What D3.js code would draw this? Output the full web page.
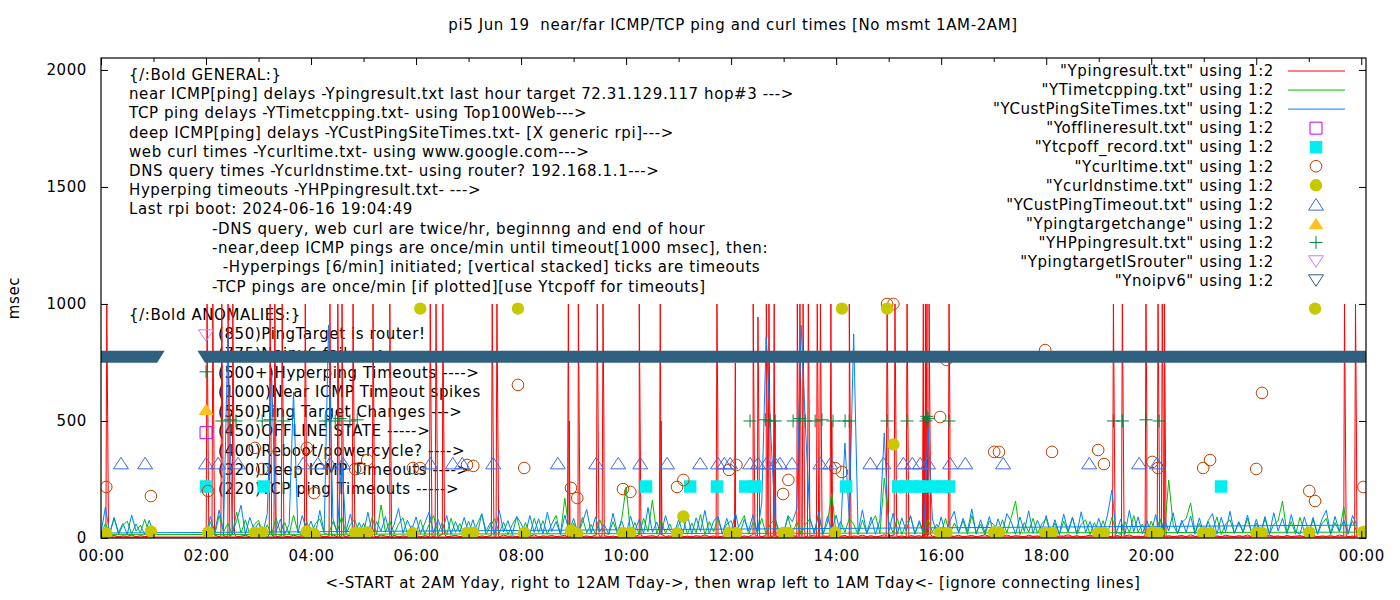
<!DOCTYPE html>
<html>
<head>
<meta charset="utf-8">
<script src="https://cdn.jsdelivr.net/npm/d3@7"></script>
<style>
  body { margin: 0; background: #fff; }
  text { font-family: "DejaVu Sans", sans-serif; font-size: 15px; letter-spacing: 0.6px; fill: #000; }
</style>
</head>
<body>
<svg id="chart" width="1400" height="600"></svg>
<script>
// ---- data (5 minute samples from 00:00, null = no measurement) ----
const xTickHours = [0, 2, 4, 6, 8, 10, 12, 14, 16, 18, 20, 22, 24];
const xTickLabels = ["00:00","02:00","04:00","06:00","08:00","10:00","12:00","14:00","16:00","18:00","20:00","22:00","00:00"];
const xMinorHours = [1, 3, 5, 7, 9, 11, 13, 15, 17, 19, 21, 23];
const yTicks = [0, 500, 1000, 1500, 2000];

const G = null;
const pingBase = [
  4,8,6,11,5,9,7,13,5,10,6,8,
  6,G,G,G,G,G,G,G,G,G,G,G,
  8,5,12,6,9,7,14,5,8,11,6,9,
  7,10,5,13,6,9,8,5,12,7,10,6,
  9,6,11,5,8,14,6,9,7,12,5,8,
  6,10,7,5,13,8,6,11,5,9,7,12,
  8,5,10,6,9,7,15,5,8,11,6,9,
  7,12,5,9,6,10,8,5,13,7,9,6,
  10,6,8,14,5,9,7,11,6,8,12,5,
  8,11,6,9,5,13,7,10,6,8,5,12,
  6,9,7,12,5,8,10,6,14,7,9,5,
  11,6,8,5,10,7,13,6,9,5,8,12,
  7,10,5,9,6,14,8,5,11,7,9,6,
  9,5,12,7,10,6,8,13,5,9,7,11,
  6,8,11,5,9,7,12,6,10,5,8,14,
  8,12,6,9,5,11,7,10,6,13,8,5,
  10,6,9,7,12,5,8,11,6,9,14,7,
  5,9,7,13,6,10,8,5,12,7,9,6,
  11,7,5,9,8,14,6,10,5,8,12,7,
  6,10,8,5,11,7,9,13,6,8,5,10,
  9,5,12,7,10,6,8,11,5,14,7,9,
  7,11,6,9,5,12,8,6,10,7,13,5,
  10,6,8,12,7,9,5,11,6,8,10,6,
  8,12,5,9,7,10,6,13,8,5,9,5
];
// [hour, peak, next minute]
const pingSpikes = [
  [0.11,1000,520],
  [2.02,1000,500],[2.13,1000,510],[2.30,1000,500],[2.42,1000,520],[2.51,1000,500],
  [3.22,1000,500],[3.31,1000,510],[3.45,1000,500],[3.89,1000,500],
  [4.36,1000,500],[4.51,1000,510],[4.59,1000,500],[4.80,1000,520],
  [5.18,1000,500],[5.50,1000,500],
  [6.27,1000,500],[6.38,1000,510],[6.51,1000,500],
  [7.45,1000,500],[7.54,1000,510],
  [8.90,1000,500],[9.09,1000,510],[9.45,1000,500],[9.56,1000,500],
  [10.25,1000,510],[10.65,1000,500],[11.73,1000,500],[12.08,748,20],
  [12.42,1000,500],[12.51,944,500],[12.67,1000,510],[12.72,1000,500],[12.82,1000,500],
  [13.26,1000,500],[13.31,1000,510],[13.37,1000,500],[13.47,1000,500],[13.64,1000,510],[13.70,1000,500],[13.90,1000,500],
  [14.25,1000,510],[14.97,1000,500],[15.12,1000,500],[15.35,1000,500],[15.66,1000,520],[15.70,1000,510],[15.73,1000,520],[15.77,1000,500],[16.15,1000,500],
  [19.28,1000,500],[19.45,1000,510],[19.90,1000,500],[20.13,1000,500],[20.21,1000,510],[20.25,1000,500],
  [23.68,1000,500],[23.89,1000,500]
];
const tcpDelay = [
  14,62,20,88,15,54,72,18,60,22,80,16,
  24,G,G,G,G,G,G,G,G,G,G,G,
  18,70,14,96,26,62,16,110,20,78,15,58,
  76,18,56,14,86,24,66,16,98,26,18,72,
  16,62,82,20,14,70,26,92,18,58,80,15,
  64,20,90,16,141,24,72,18,60,86,20,52,
  22,78,16,58,96,18,66,14,84,24,62,18,
  72,16,60,102,15,52,82,20,68,14,58,90,
  18,66,14,84,24,74,16,60,96,15,170,26,
  64,15,88,22,58,16,78,26,14,70,20,82,
  218,22,66,15,84,26,162,16,74,20,60,15,
  56,82,16,64,22,100,15,70,26,86,18,60,
  74,20,58,96,16,66,24,84,15,62,78,22,
  26,90,18,70,15,58,82,22,100,16,64,192,
  16,72,24,84,58,15,76,22,64,96,20,256,
  70,22,82,16,60,92,20,66,15,78,26,58,
  22,84,15,64,26,74,16,96,24,60,14,72,
  58,16,78,22,86,158,15,66,26,84,20,60,
  82,18,64,14,72,24,90,16,58,78,15,66,
  24,74,16,88,28,14,70,22,96,26,60,16,
  72,22,82,15,248,58,18,66,84,150,24,62,
  16,70,26,90,15,60,78,20,66,24,84,14,
  64,20,82,15,58,74,158,22,70,16,88,26,
  22,78,16,60,84,15,66,26,132,20,74,25
];
const custDelay = [
  21,132,18,85,24,62,16,98,30,54,15,76,
  22,G,G,G,G,G,G,G,G,G,G,G,
  18,92,25,120,30,868,20,74,140,16,88,35,
  64,20,105,697,28,80,18,58,624,22,96,30,
  72,15,118,26,910,84,20,333,30,102,16,66,
  24,110,18,70,30,92,16,58,126,20,76,34,
  90,18,64,112,22,80,28,96,16,70,24,88,
  20,78,16,104,30,66,18,120,26,74,15,92,
  62,16,96,24,82,18,110,28,70,16,98,26,
  84,18,66,122,20,90,28,58,16,106,24,72,
  16,94,30,80,18,130,24,68,16,96,30,22,
  78,20,102,16,86,28,118,18,72,94,16,84,
  24,108,18,80,30,100,20,152,859,470,88,26,
  18,96,70,124,910,470,84,20,110,16,92,30,
  98,18,406,80,872,24,120,18,90,16,76,449,
  22,106,18,86,30,96,16,74,24,470,82,18,
  90,16,72,114,22,84,28,124,16,78,24,92,
  18,82,24,104,70,16,90,28,116,20,76,30,
  96,20,78,16,102,28,86,18,112,24,70,16,
  84,26,98,205,18,80,16,118,26,90,18,74,
  22,100,16,82,30,108,18,76,24,94,16,86,
  18,74,104,16,88,26,114,20,70,28,98,16,
  80,22,92,16,108,30,84,18,100,26,16,90,
  24,88,16,80,118,20,92,28,76,16,96,55
];

const offlineRecs = [[2.0, 450]];
const tcpOffTimes = [2.0, 3.10, 10.38, 11.22, 11.73, 12.27, 12.46, 14.19, 15.18, 15.32, 15.46, 15.6, 15.74, 15.88, 16.02, 16.15, 21.33];
const tcpOffValue = 220;
const curlRecs = [
  [0.10,218],[0.95,179],[2.04,201],[2.93,385],[3.07,295],[3.92,385],[4.06,192],[4.84,295],[4.93,299],[5.07,333],
  [5.94,299],[6.08,299],[6.97,312],[7.09,308],[7.94,654],[8.06,299],[8.95,214],[9.07,171],[9.94,209],[10.08,197],
  [10.97,218],[11.09,248],[11.96,291],[12.10,312],[12.99,188],[13.09,248],[13.98,299],[14.11,282],[14.97,1000],[15.09,1000],
  [15.98,517],[16.10,761],[17.01,368],[17.10,368],[17.98,803],[18.11,368],[18.99,376],[19.10,316],[20.02,325],[20.13,299],
  [20.99,299],[21.12,333],[22.00,295],[22.11,620],[23.01,201],[23.12,158],[24.04,218]
];
const dnsRecs = [
  [0.10,18],[0.95,28],[2.04,24],[2.93,22],[3.07,24],[3.92,28],[4.06,16],[4.84,22],[4.93,20],[5.07,24],
  [5.94,20],[6.08,980],[6.97,22],[7.09,22],[7.94,980],[8.06,22],[8.95,32],[9.07,18],[9.94,22],[10.08,22],
  [10.97,20],[11.09,92],[11.96,22],[12.10,22],[12.99,22],[13.09,22],[13.98,24],[14.11,980],[14.97,980],[15.09,400],
  [15.98,22],[16.10,22],[17.01,24],[17.10,24],[17.98,22],[18.11,22],[18.99,22],[19.10,22],[20.02,24],[20.13,22],
  [20.99,22],[21.12,20],[22.00,22],[22.11,22],[23.01,24],[23.12,980],[24.04,26]
];
const custTimeoutTimes = [0.38,0.84,2.0,2.23,2.61,3.85,4.13,4.36,4.61,6.27,6.70,6.88,7.47,8.70,9.43,9.85,10.27,10.78,11.41,11.75,11.87,11.98,12.36,12.51,12.67,12.84,12.93,13.16,13.70,13.89,14.65,14.90,15.28,15.45,15.60,15.75,16.17,16.46,17.18,18.82,19.77,20.11];
const custTimeoutValue = 320;
const targetChangeRecs = [[2.0, 550]];
const hpRecs = [
  [2.0,710],[2.30,500],[2.46,505],[2.57,500],[3.07,500],[3.22,505],[3.47,500],[4.27,500],[4.46,500],[4.55,510],[4.74,500],[4.88,505],
  [12.36,500],[12.65,505],[12.74,500],[12.84,500],[13.18,500],[13.31,510],[13.41,500],[13.60,500],[13.73,505],[13.94,500],[14.17,500],[14.25,500],
  [14.97,500],[15.35,500],[15.71,500],[15.73,520],[15.75,510],[16.15,500],[19.28,500],[19.45,500],[19.90,505],[20.15,500]
];
const isRouterRecs = [[2.0, 865]];
const noipv6Spans = [[-0.2, 1.07], [1.98, 24.3]];
const noipv6Value = 775;

const generalLines = [
  "{/:Bold GENERAL:}",
  "near ICMP[ping] delays -Ypingresult.txt last hour target 72.31.129.117 hop#3 --->",
  "TCP ping delays -YTimetcpping.txt- using Top100Web--->",
  "deep ICMP[ping] delays -YCustPingSiteTimes.txt- [X generic rpi]--->",
  "web curl times -Ycurltime.txt- using www.google.com--->",
  "DNS query times -Ycurldnstime.txt- using router? 192.168.1.1--->",
  "Hyperping timeouts -YHPpingresult.txt- --->",
  "Last rpi boot: 2024-06-16 19:04:49"
];
const noteLines = [
  "-DNS query, web curl are twice/hr, beginnng and end of hour",
  "-near,deep ICMP pings are once/min until timeout[1000 msec], then:",
  "  -Hyperpings [6/min] initiated; [vertical stacked] ticks are timeouts",
  "-TCP pings are once/min [if plotted][use Ytcpoff for timeouts]"
];
const anomalyLines = [
  "(850)PingTarget is router!",
  "(775)Noipv6 fail ---->",
  "(500+)Hyperping Timeouts ---->",
  "(1000)Near ICMP Timeout spikes",
  "(550)Ping Target Changes --->",
  "(450)OFFLINE STATE ----->",
  "(400)Reboot/powercycle? ---->",
  "(320)Deep ICMP Timeouts ---->",
  "(220)TCP ping Timeouts ----->"
];
const legendNames = [
  '"Ypingresult.txt" using 1:2',
  '"YTimetcpping.txt" using 1:2',
  '"YCustPingSiteTimes.txt" using 1:2',
  '"Yofflineresult.txt" using 1:2',
  '"Ytcpoff_record.txt" using 1:2',
  '"Ycurltime.txt" using 1:2',
  '"Ycurldnstime.txt" using 1:2',
  '"YCustPingTimeout.txt" using 1:2',
  '"Ypingtargetchange" using 1:2',
  '"YHPpingresult.txt" using 1:2',
  '"YpingtargetISrouter" using 1:2',
  '"Ynoipv6" using 1:2'
];

// ---- drawing ----
const pLeft = 101, pRight = 1366, pTop = 58, pBottom = 538;
const svg = d3.select("#chart");

const x = d3.scaleLinear().domain([0, 24.09]).range([pLeft, pRight]);
const y = d3.scaleLinear().domain([0, 2051]).range([pBottom, pTop]);

const col = {
  red: "#ff0000", green: "#00c000", blue: "#0080ff", magenta: "#c000ff",
  cyan: "#00eeee", brown: "#c04000", yellow: "#c8c800", royal: "#4169e1",
  gold: "#ffc020", spring: "#008040", purple: "#c080ff", steel: "#306080"
};

// shapes
const sq = s => `M${-s/2},${-s/2}h${s}v${s}h${-s}Z`;
const triUp = (w, h) => `M0,${-h/2}L${w/2},${h/2}L${-w/2},${h/2}Z`;
const triDown = (w, h) => `M${-w/2},${-h/2}L${w/2},${-h/2}L0,${h/2}Z`;
const plus = s => `M${-s/2},0H${s/2}M0,${-s/2}V${s/2}`;
const circ = r => `M${-r},0A${r},${r} 0 1,0 ${r},0A${r},${r} 0 1,0 ${-r},0Z`;

const markers = {
  offline: {d: sq(12), fill: "none", stroke: col.magenta},
  tcpoff: {d: sq(12.5), fill: col.cyan, stroke: "none"},
  curl: {d: circ(5.8), fill: "none", stroke: col.brown},
  dns: {d: circ(6.2), fill: col.yellow, stroke: "none"},
  custTo: {d: triUp(15, 11.5), fill: "none", stroke: col.royal},
  target: {d: triUp(15, 11.5), fill: col.gold, stroke: "none"},
  hp: {d: plus(13), fill: "none", stroke: col.spring},
  router: {d: triDown(15, 11.5), fill: "none", stroke: col.purple},
  noipv6: {d: triDown(15, 11.5), fill: "none", stroke: col.steel}
};

// text blocks (behind the data)
svg.selectAll("text.general")
  .data(generalLines)
  .join("text")
  .attr("x", 129)
  .attr("y", (d, i) => 75 + i * 19.1)
  .attr("dy", "0.35em")
  .style("white-space", "pre")
  .text(d => d);

svg.selectAll("text.note")
  .data(noteLines)
  .join("text")
  .attr("x", 212)
  .attr("y", (d, i) => 229 + i * 19.1)
  .attr("dy", "0.35em")
  .style("white-space", "pre")
  .text(d => d);

svg.append("text")
  .attr("x", 129).attr("y", 315).attr("dy", "0.35em")
  .text("{/:Bold ANOMALIES:}");

svg.selectAll("text.anom")
  .data(anomalyLines)
  .join("text")
  .attr("x", 218)
  .attr("y", (d, i) => 334 + i * 19.4)
  .attr("dy", "0.35em")
  .text(d => d);

// clip
svg.append("defs").append("clipPath").attr("id", "plotclip")
  .append("rect").attr("x", pLeft).attr("y", pTop)
  .attr("width", pRight - pLeft).attr("height", pBottom - pTop);

const plot = svg.append("g").attr("clip-path", "url(#plotclip)");

// series start at 2AM, run to midnight, then wrap to 00:00-01:00
function ordered(points) {
  const a = points.filter(p => p.t >= 2).sort((p, q) => p.t - q.t);
  const b = points.filter(p => p.t < 2).sort((p, q) => p.t - q.t);
  return a.concat(b);
}
function gridPoints(vals) {
  return vals.map((v, i) => ({t: i * 5 / 60, v: v})).filter(p => p.v != null);
}

const line = d3.line().x(d => x(d.t)).y(d => y(d.v));

const pingPts = gridPoints(pingBase);
pingSpikes.forEach(s => {
  const base = pingBase[Math.round(s[0] * 12)] || 6;
  const m = 1 / 60;
  pingPts.push({t: s[0] - m, v: base}, {t: s[0], v: s[1]}, {t: s[0] + m, v: s[2]}, {t: s[0] + 2 * m, v: base});
});

plot.append("path").attr("d", line(ordered(pingPts)))
  .attr("fill", "none").attr("stroke", col.red).attr("stroke-width", 1);
plot.append("path").attr("d", line(ordered(gridPoints(tcpDelay))))
  .attr("fill", "none").attr("stroke", col.green).attr("stroke-width", 1);
plot.append("path").attr("d", line(ordered(gridPoints(custDelay))))
  .attr("fill", "none").attr("stroke", col.blue).attr("stroke-width", 1);

function drawPoints(recs, m) {
  plot.append("g").selectAll("path")
    .data(recs)
    .join("path")
    .attr("transform", d => `translate(${x(d[0])},${y(d[1])})`)
    .attr("d", m.d)
    .attr("fill", m.fill)
    .attr("stroke", m.stroke)
    .attr("stroke-width", 1);
}

drawPoints(offlineRecs, markers.offline);
drawPoints(tcpOffTimes.map(t => [t, tcpOffValue]), markers.tcpoff);
drawPoints(curlRecs, markers.curl);
drawPoints(dnsRecs, markers.dns);
drawPoints(custTimeoutTimes.map(t => [t, custTimeoutValue]), markers.custTo);
drawPoints(targetChangeRecs, markers.target);
drawPoints(hpRecs, markers.hp);
drawPoints(isRouterRecs, markers.router);

// Ynoipv6: one point per minute, dense enough to merge into a band
plot.append("g").selectAll("path")
  .data(noipv6Spans)
  .join("path")
  .attr("d", d => {
    const yc = y(noipv6Value), x0 = x(d[0]), x1 = x(d[1]);
    return `M${x0 - 7.5},${yc - 6}L${x1 + 7.5},${yc - 6}L${x1},${yc + 6}L${x0},${yc + 6}Z`;
  })
  .attr("fill", col.steel);

// axes (ticks inward, gnuplot style)
const axes = svg.append("g");
axes.append("g").attr("transform", `translate(0,${pBottom})`)
  .call(d3.axisBottom(x).tickValues(xTickHours).tickSize(-7).tickPadding(12)
    .tickFormat((d, i) => xTickLabels[i]));
axes.append("g").attr("transform", `translate(0,${pBottom})`)
  .call(d3.axisBottom(x).tickValues(xMinorHours).tickSize(-4).tickFormat(""));
axes.append("g").attr("transform", `translate(0,${pTop})`)
  .call(d3.axisTop(x).tickValues(xTickHours).tickSize(-7).tickFormat(""));
axes.append("g").attr("transform", `translate(0,${pTop})`)
  .call(d3.axisTop(x).tickValues(xMinorHours).tickSize(-4).tickFormat(""));
axes.append("g").attr("transform", `translate(${pLeft},0)`)
  .call(d3.axisLeft(y).tickValues(yTicks).tickSize(-7).tickPadding(14).tickFormat(d3.format("d")));
axes.append("g").attr("transform", `translate(${pRight},0)`)
  .call(d3.axisRight(y).tickValues(yTicks).tickSize(-7).tickFormat(""));
axes.selectAll(".domain").remove();
axes.selectAll(".tick line").attr("stroke", "#000");
axes.selectAll(".tick text")
  .style("font-family", '"DejaVu Sans", sans-serif')
  .style("font-size", "15px").style("letter-spacing", "0.6px").attr("fill", "#000");

svg.append("rect")
  .attr("x", pLeft).attr("y", pTop)
  .attr("width", pRight - pLeft).attr("height", pBottom - pTop)
  .attr("fill", "none").attr("stroke", "#000").attr("stroke-width", 1.2);

// legend
const legendKinds = [
  {line: col.red}, {line: col.green}, {line: col.blue},
  {m: markers.offline}, {m: markers.tcpoff}, {m: markers.curl}, {m: markers.dns},
  {m: markers.custTo}, {m: markers.target}, {m: markers.hp}, {m: markers.router}, {m: markers.noipv6}
];
const legend = svg.append("g");
const rows = legend.selectAll("g")
  .data(legendNames)
  .join("g")
  .attr("transform", (d, i) => `translate(0,${71 + i * 19.05})`);
rows.append("text")
  .attr("x", 1274).attr("dy", "0.35em").attr("text-anchor", "end")
  .text(d => d);
rows.each(function(d, i) {
  const k = legendKinds[i];
  const g = d3.select(this);
  if (k.line) {
    g.append("line").attr("x1", 1288).attr("x2", 1345).attr("y1", 0).attr("y2", 0)
      .attr("stroke", k.line).attr("stroke-width", 1);
  } else {
    g.append("path").attr("transform", "translate(1316,0)").attr("d", k.m.d)
      .attr("fill", k.m.fill).attr("stroke", k.m.stroke).attr("stroke-width", 1);
  }
});

// titles
svg.append("text")
  .attr("x", 733).attr("y", 25).attr("dy", "0.35em").attr("text-anchor", "middle")
  .style("white-space", "pre")
  .text("pi5 Jun 19  near/far ICMP/TCP ping and curl times [No msmt 1AM-2AM]");
svg.append("text")
  .attr("x", 733).attr("y", 583).attr("dy", "0.35em").attr("text-anchor", "middle")
  .text("<-START at 2AM Yday, right to 12AM Tday->, then wrap left to 1AM Tday<- [ignore connecting lines]");
svg.append("text")
  .attr("transform", "translate(14,298) rotate(-90)")
  .attr("dy", "0.35em").attr("text-anchor", "middle")
  .text("msec");
</script>
</body>
</html>
